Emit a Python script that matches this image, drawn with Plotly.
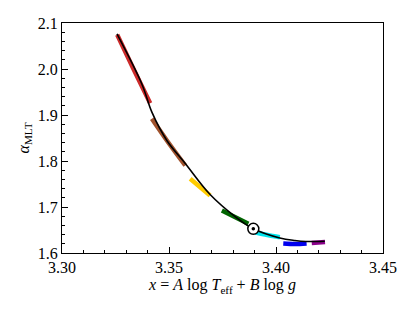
import plotly.graph_objects as go

# Black reference curve
curve_x = [3.3257, 3.3374, 3.3420, 3.3490, 3.3576, 3.3692, 3.3809, 3.3894, 3.4018, 3.4088, 3.4140, 3.4228]
curve_y = [2.0761, 1.9663, 1.9061, 1.8446, 1.7946, 1.7272, 1.6793, 1.6526, 1.6326, 1.6272, 1.6250, 1.6257]

# Coloured segments
seg_names = ["red", "brown", "yellow", "green", "cyan", "blue", "purple"]
seg_colors = ["#cc2a2a", "#a0522d", "#ffcc00", "#006400", "#00e5ee", "#0000ee", "#8b008b"]
seg_x = [
    [3.3258, 3.3333, 3.3412],
    [3.3420, 3.3490, 3.3576],
    [3.3599, 3.3692],
    [3.3747, 3.3871],
    [3.3902, 3.3960, 3.4018],
    [3.4034, 3.4089, 3.4143],
    [3.4167, 3.4229],
]
seg_y = [
    [2.0743, 2.0011, 1.9257],
    [1.8917, 1.8446, 1.7902],
    [1.7613, 1.7250],
    [1.6924, 1.6635],
    [1.6452, 1.6390, 1.6343],
    [1.6207, 1.6196, 1.6207],
    [1.6217, 1.6239],
]

# Sun marker
sun_x = [3.3894]
sun_y = [1.6526]

fig = go.Figure()
for name, c, xs, ys in zip(seg_names, seg_colors, seg_x, seg_y):
    fig.add_trace(go.Scatter(x=xs, y=ys, mode="lines", line=dict(color=c, width=4.5, shape="spline"),
                             showlegend=False, hoverinfo="skip"))
fig.add_trace(go.Scatter(x=curve_x, y=curve_y, mode="lines", line=dict(color="black", width=1.6, shape="spline"),
                         showlegend=False))
fig.add_trace(go.Scatter(x=sun_x, y=sun_y, mode="markers",
                         marker=dict(symbol="circle", size=11, color="white", line=dict(color="black", width=1.5)),
                         showlegend=False))
fig.add_trace(go.Scatter(x=sun_x, y=sun_y, mode="markers",
                         marker=dict(symbol="circle", size=3.5, color="black"),
                         showlegend=False))

fam = "Liberation Serif"
fig.update_layout(
    width=415, height=311,
    margin=dict(l=54, r=40, t=15, b=66),
    plot_bgcolor="white", paper_bgcolor="white",
    font=dict(family=fam, size=16, color="black"),
    xaxis=dict(range=[3.30, 3.45], tickvals=[3.30, 3.35, 3.40, 3.45], ticktext=["3.30", "3.35", "3.40", "3.45"],
               ticks="inside", ticklen=6, tickcolor="black", showline=True, linecolor="black", linewidth=1,
               mirror=True, showgrid=False, zeroline=False, automargin=False,
               tickfont=dict(family=fam, size=16),
               minor=dict(dtick=0.01, tick0=3.30, ticks="inside", ticklen=3, tickcolor="black", showgrid=False),
               title=dict(text="<i>x</i> = <i>A</i> log <i>T</i><sub>eff</sub> + <i>B</i> log <i>g</i>",
                          standoff=0, font=dict(family=fam, size=16))),
    yaxis=dict(range=[1.6, 2.1], tickvals=[1.6, 1.7, 1.8, 1.9, 2.0, 2.1], ticktext=["1.6", "1.7", "1.8", "1.9", "2.0", "2.1"],
               ticks="inside", ticklen=6, tickcolor="black", showline=True, linecolor="black", linewidth=1,
               mirror=True, showgrid=False, zeroline=False, automargin=False,
               tickfont=dict(family=fam, size=16),
               minor=dict(dtick=0.02, tick0=1.6, ticks="inside", ticklen=3, tickcolor="black", showgrid=False),
               title=dict(text="<i>α</i><sub>MLT</sub>", standoff=4, font=dict(family=fam, size=16))),
)
fig.write_html("out.html")
